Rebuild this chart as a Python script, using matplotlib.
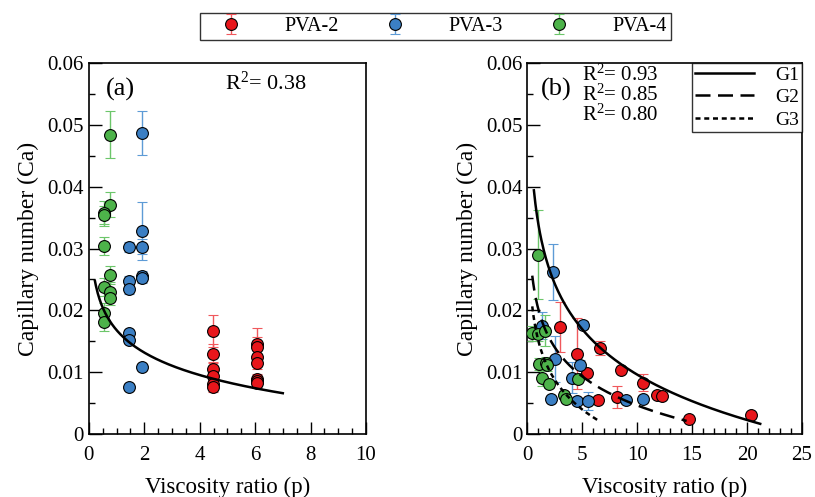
import numpy as np
import matplotlib
matplotlib.use("Agg")
import matplotlib.pyplot as plt
from matplotlib.ticker import MultipleLocator

plt.rcParams['font.family'] = ['Liberation Serif', 'DejaVu Serif']
plt.rcParams['mathtext.fontset'] = 'custom'
plt.rcParams['mathtext.rm'] = 'Liberation Serif'
plt.rcParams['mathtext.it'] = 'Liberation Serif:italic'

# ---- panel (a) data ----
a_red_x = [4.48] * 6 + [6.06] * 7
a_red_y = [0.0167, 0.0130, 0.0105, 0.0094, 0.0080, 0.0076,
           0.0146, 0.0141, 0.0124, 0.0115, 0.0089, 0.0085, 0.0082]
a_red_e = [0.0026, 0.0015, 0.0012, 0.0010, 0.0008, 0.0008,
           0.0026, 0.0015, 0.0012, 0.0010, 0.0008, 0.0008, 0.0007]

a_blue_x = [1.91, 1.91, 1.91, 1.44, 1.91, 1.91, 1.44, 1.44, 1.44, 1.44, 1.91, 1.44]
a_blue_y = [0.0487, 0.0328, 0.0303, 0.0303, 0.0256, 0.0252, 0.0248, 0.0235,
            0.0163, 0.0152, 0.0108, 0.0076]
a_blue_e = [0.0036, 0.0047, 0.0012, 0.0008, 0.0008, 0.0008, 0.0008, 0.0008,
            0.0005, 0.0005, 0.0003, 0.0003]

a_green_x = [0.76, 0.76, 0.54, 0.54, 0.54, 0.76, 0.54, 0.76, 0.76, 0.54, 0.54]
a_green_y = [0.0484, 0.0371, 0.0357, 0.0354, 0.0304, 0.0257, 0.0238, 0.0230,
             0.0220, 0.0196, 0.0181]
a_green_e = [0.0038, 0.0020, 0.0020, 0.0015, 0.0015, 0.0015, 0.0015, 0.0015,
             0.0012, 0.0015, 0.0015]

# log fit  Ca = c - d*ln(p)
a_fit = (0.0168, 0.00525)
a_fit_range = (0.22, 7.0)

# ---- panel (b) data ----
b_red_x = [3.0, 4.5, 6.6, 5.4, 8.5, 10.5, 11.8, 12.3, 8.2, 6.4, 14.7, 20.4]
b_red_y = [0.0173, 0.0130, 0.0139, 0.0099, 0.0104, 0.0083, 0.0063, 0.0062,
           0.0060, 0.0055, 0.0024, 0.0031]
b_red_e = [0.0040, 0.0058, 0.0012, 0.0005, 0.0004, 0.0014, 0.0005, 0.0005,
           0.0018, 0.0003, 0.0002, 0.0005]

b_blue_x = [1.3, 2.3, 5.1, 2.5, 4.8, 4.1, 2.2, 4.5, 5.5, 9.0, 10.5]
b_blue_y = [0.0175, 0.0262, 0.0176, 0.0121, 0.0112, 0.0091, 0.0057, 0.0053,
            0.0053, 0.0055, 0.0057]
b_blue_e = [0.0022, 0.0046, 0.0007, 0.0037, 0.0007, 0.0025, 0.0003, 0.0003,
            0.0015, 0.0005, 0.0004]

b_green_x = [1.0, 0.45, 1.0, 1.6, 1.1, 1.7, 1.8, 1.3, 2.0, 3.3, 3.5, 4.6]
b_green_y = [0.0290, 0.0163, 0.0162, 0.0167, 0.0113, 0.0115, 0.0112, 0.0090,
             0.0080, 0.0063, 0.0057, 0.0089]
b_green_e = [0.0072, 0.0012, 0.0012, 0.0025, 0.0010, 0.0010, 0.0010, 0.0012,
             0.0005, 0.0006, 0.0004, 0.0005]

# group fits (c, d, xmin, xmax)
b_fits = {
    'G1': (0.0340, 0.0106, 0.6, 21.2),
    'G2': (0.0202, 0.00677, 0.45, 14.5),
    'G3': (0.0151, 0.00693, 0.45, 6.5),
}
b_fit_styles = {'G1': '-', 'G2': (0, (6, 3)), 'G3': (0, (2, 1.5))}
b_r2 = ['0.93', '0.85', '0.80']

series_names = ['PVA-2', 'PVA-3', 'PVA-4']
face = ['#e8161b', '#3b7fc4', '#4db34a']
ecol = ['#f0585c', '#5d9bd6', '#6cc66a']


def scatter(ax, x, y, e, i, label=None):
    return ax.errorbar(x, y, yerr=e, fmt='o', ms=8.5, mfc=face[i], mec='black',
                       mew=0.8, ecolor=ecol[i], elinewidth=1.0, capsize=3.5,
                       capthick=1.0, label=label, zorder=3)


def style(ax, xmax, xmaj, xmin):
    ax.set_xlim(0, xmax)
    ax.set_ylim(0, 0.06)
    ax.xaxis.set_major_locator(MultipleLocator(xmaj))
    ax.xaxis.set_minor_locator(MultipleLocator(xmin))
    ax.yaxis.set_major_locator(MultipleLocator(0.01))
    ax.yaxis.set_minor_locator(MultipleLocator(0.005))
    ax.tick_params(which='both', direction='in', top=False, right=False,
                   labelsize=15, width=1.0)
    ax.tick_params(axis='x', pad=9)
    ax.tick_params(which='major', length=9)
    ax.tick_params(which='minor', length=4.5)
    ax.yaxis.set_major_formatter(plt.FuncFormatter(lambda v, p: '0' if v == 0 else f'{v:.2f}'))
    for s in ax.spines.values():
        s.set_linewidth(1.2)
    ax.set_xlabel('Viscosity ratio (p)', fontsize=16.5, labelpad=8)
    ax.set_ylabel('Capillary number (Ca)', fontsize=17, labelpad=6)


fig = plt.figure(figsize=(8.15, 4.97), dpi=100)
ax1 = fig.add_axes([0.109, 0.127, 0.340, 0.746])
ax2 = fig.add_axes([0.647, 0.127, 0.337, 0.746])

# panel (a)
h = []
h.append(scatter(ax1, a_red_x, a_red_y, a_red_e, 0, series_names[0]))
h.append(scatter(ax1, a_blue_x, a_blue_y, a_blue_e, 1, series_names[1]))
h.append(scatter(ax1, a_green_x, a_green_y, a_green_e, 2, series_names[2]))
px = np.linspace(a_fit_range[0], a_fit_range[1], 200)
ax1.plot(px, a_fit[0] - a_fit[1] * np.log(px), color='black', lw=1.8, zorder=4)
style(ax1, 10, 2, 0.5)
ax1.text(0.06, 0.93, '(a)', transform=ax1.transAxes, fontsize=19, va='center')
ax1.text(0.49, 0.945, 'R$^2$= 0.38', transform=ax1.transAxes, fontsize=16, va='center')

# panel (b)
scatter(ax2, b_red_x, b_red_y, b_red_e, 0)
scatter(ax2, b_blue_x, b_blue_y, b_blue_e, 1)
scatter(ax2, b_green_x, b_green_y, b_green_e, 2)
for name, (c, d, x0, x1) in b_fits.items():
    px = np.linspace(x0, x1, 300)
    ax2.plot(px, c - d * np.log(px), color='black', lw=1.8,
             linestyle=b_fit_styles[name], label=name, zorder=4)
style(ax2, 25, 5, 1)
ax2.text(0.05, 0.93, '(b)', transform=ax2.transAxes, fontsize=19, va='center')
for k, r in enumerate(b_r2):
    ax2.text(0.2, 0.968 - k * 0.054, 'R$^2$= ' + r, transform=ax2.transAxes,
             fontsize=15, va='center')
lg = ax2.legend(loc='upper right', fontsize=14, frameon=True, fancybox=False,
                borderaxespad=0, handlelength=3.0, handletextpad=1.1,
                labelspacing=0.25, borderpad=0.15)
lg.get_frame().set_edgecolor('black')
lg.get_frame().set_linewidth(1.0)

fl = fig.legend(handles=h, labels=series_names, loc='upper center', ncol=3,
                bbox_to_anchor=(0.5344, 0.974), borderaxespad=0, fontsize=14.5,
                frameon=True, fancybox=False, handlelength=2.6, handletextpad=1.35,
                columnspacing=1.5, borderpad=0.2)
fl.get_frame().set_edgecolor('black')
fl.get_frame().set_linewidth(1.0)

fig.savefig('out.png', dpi=100)
